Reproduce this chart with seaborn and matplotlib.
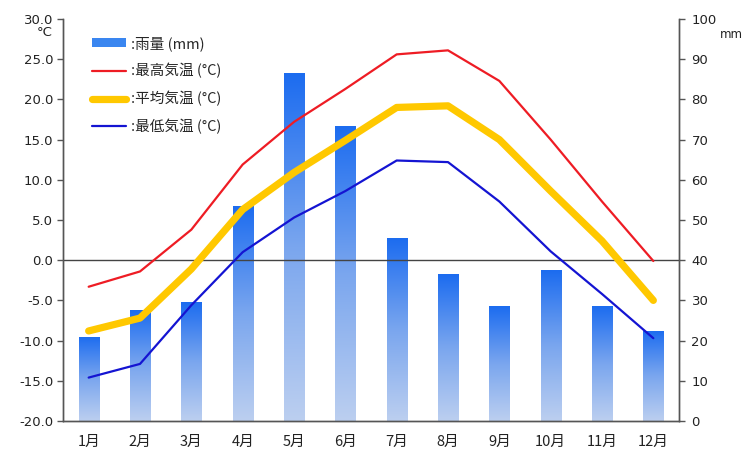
import numpy as np
import pandas as pd
import matplotlib
matplotlib.use("Agg")
import matplotlib.pyplot as plt
from matplotlib.colors import LinearSegmentedColormap
from matplotlib.patches import Rectangle
from matplotlib.lines import Line2D
import seaborn as sns

# Monthly climate data
months = ["1月", "2月", "3月", "4月", "5月", "6月", "7月", "8月", "9月", "10月", "11月", "12月"]
rain_mm = [21, 27.5, 29.5, 53.5, 86.5, 73.5, 45.5, 36.5, 28.5, 37.5, 28.5, 22.5]
temp_max = [-3.3, -1.4, 3.8, 11.9, 17.2, 21.3, 25.6, 26.1, 22.3, 15.0, 7.3, -0.1]
temp_avg = [-8.8, -7.2, -1.1, 6.3, 10.9, 14.9, 19.0, 19.2, 15.0, 8.6, 2.4, -5.0]
temp_min = [-14.6, -12.9, -5.6, 1.0, 5.3, 8.6, 12.4, 12.2, 7.3, 1.1, -4.2, -9.7]

temp_ticks = np.arange(-20, 30.1, 5)
rain_ticks = np.arange(0, 101, 10)

legend_labels = [":雨量 (mm)", ":最高気温 (°C)", ":平均気温 (°C)", ":最低気温 (°C)"]

sns.set_theme(style="white")
plt.rcParams["font.family"] = ["DejaVu Sans", "Noto Sans CJK JP"]
jp = ["Noto Sans CJK JP", "DejaVu Sans"]

fig = plt.figure(figsize=(7.42, 4.57), dpi=100)
ax = fig.add_axes([63 / 742, 1 - 421 / 457, 616 / 742, 402 / 457])
ax2 = ax.twinx()

df = pd.DataFrame({"month": months, "rain": rain_mm,
                   "tmax": temp_max, "tavg": temp_avg, "tmin": temp_min})
df["pos"] = np.arange(len(months))

# Rainfall bars on the secondary axis
sns.barplot(data=df, x="month", y="rain", ax=ax2, width=0.39,
            color="#2a78ee", saturation=1, edgecolor="none")
ax2.set_ylim(0, 100)

# Vertical blue gradient inside each bar
cmap = LinearSegmentedColormap.from_list("rainfade", ["#bccff0", "#7aa6ee", "#1c6cf0"])
grad = np.linspace(0, 1, 256).reshape(-1, 1)
for p in list(ax2.patches):
    x0, w, h = p.get_x(), p.get_width(), p.get_height()
    im = ax2.imshow(grad, extent=[x0, x0 + w, 0, h], origin="lower",
                    aspect="auto", cmap=cmap, zorder=2)
    im.set_clip_path(p)
    p.set_facecolor("none")
ax2.set_xlim(-0.5, len(months) - 0.5)
ax2.set_ylim(0, 100)

# Temperature lines on the primary axis, drawn above the bars
ax.set_zorder(ax2.get_zorder() + 1)
ax.patch.set_visible(False)
sns.lineplot(data=df, x="pos", y="tmax", ax=ax, color="#ee1c24", lw=1.6)
sns.lineplot(data=df, x="pos", y="tavg", ax=ax, color="#ffc800", lw=5.2,
             solid_capstyle="round")
sns.lineplot(data=df, x="pos", y="tmin", ax=ax, color="#1414d2", lw=1.6)
ax.axhline(0, color="#444444", lw=1.0, zorder=1)

ax.set_xlim(-0.5, len(months) - 0.5)
ax.set_ylim(-20, 30)
ax.set_yticks(temp_ticks)
ax.set_yticklabels([f"{v:.1f}" for v in temp_ticks])
ax2.set_yticks(rain_ticks)
ax2.set_yticklabels([f"{v:d}" for v in rain_ticks])
ax.set_xticks(np.arange(len(months)))
ax.set_xticklabels(months, fontfamily=jp)
ax.set_xlabel("")
ax.set_ylabel("")
ax2.set_xlabel("")
ax2.set_ylabel("")

for a in (ax, ax2):
    a.spines["top"].set_visible(False)
    for s in ("left", "right", "bottom"):
        a.spines[s].set_color("#555555")
        a.spines[s].set_linewidth(1.0)
ax.tick_params(axis="y", which="both", left=True, direction="out", length=4,
               width=1, color="#555555", labelsize=9.5, labelcolor="#222222", pad=3)
ax.tick_params(axis="x", length=0, pad=10, labelsize=10.5, labelcolor="#222222")
ax2.tick_params(axis="y", which="both", right=True, direction="out", length=4,
                width=1, color="#555555", labelsize=9.5, labelcolor="#222222", pad=5)
ax2.tick_params(axis="x", length=0)

# Unit labels
fig.text(45 / 742, 1 - 33 / 457, "°C", fontsize=9.5, color="#222222",
         ha="center", va="center")
fig.text(731 / 742, 1 - 35 / 457, "mm", fontsize=8.5, color="#222222",
         ha="center", va="center")

handles = [
    Rectangle((0, 0), 1, 1, facecolor="#3a86f0", edgecolor="none"),
    Line2D([], [], color="#ee1c24", lw=1.6),
    Line2D([], [], color="#ffc800", lw=5.2),
    Line2D([], [], color="#1414d2", lw=1.6),
]
ax.legend(handles, legend_labels, loc="upper left",
          bbox_to_anchor=(92 / 742, 1 - 36 / 457), bbox_transform=fig.transFigure,
          frameon=False, borderpad=0, borderaxespad=0, handlelength=2.3,
          handleheight=0.55, handletextpad=0.35, labelspacing=0.85,
          prop={"family": jp, "size": 10.5})

fig.savefig("out.png", dpi=100, facecolor="white")
